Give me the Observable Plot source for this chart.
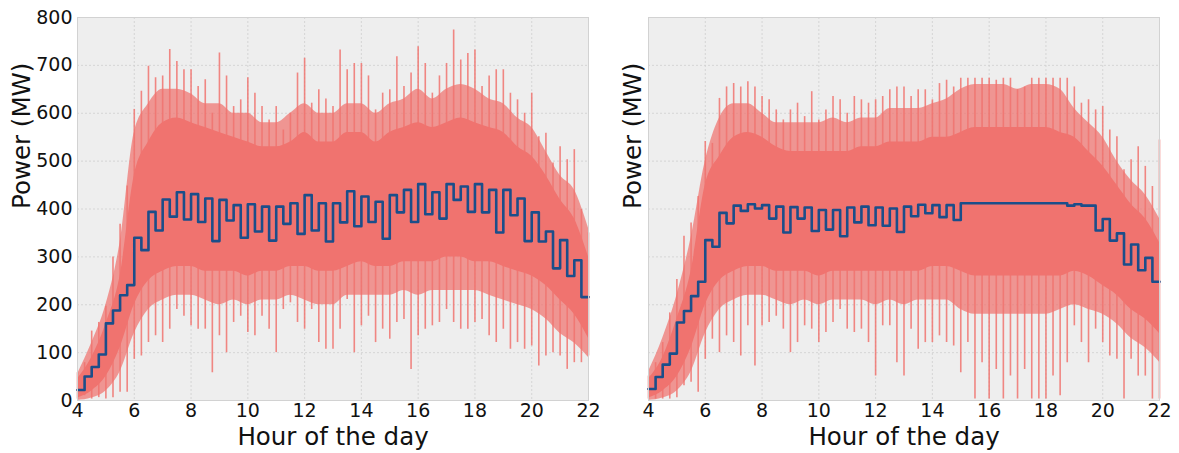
<!DOCTYPE html>
<html>
<head>
<meta charset="utf-8">
<script src="https://cdn.jsdelivr.net/npm/d3@7"></script>
<script src="https://cdn.jsdelivr.net/npm/@observablehq/plot@0.6"></script>
<style>
  html, body { margin: 0; padding: 0; background: #fff; }
  #wrap { display: flex; width: 1179px; height: 453px; }
</style>
</head>
<body>
<div id="wrap"></div>
<script>
// ---- data ----
const xTicks = [4, 6, 8, 10, 12, 14, 16, 18, 20, 22];
const yTicks = [0, 100, 200, 300, 400, 500, 600, 700, 800];
const xLabel = "Hour of the day";
const yLabel = "Power (MW)";

// quarter-hour means (step line), 4:00 .. 21:45
const leftMean = [22,50,70,96, 161,188,220,241, 340,314,394,355, 420,384,435,378,
  431,373,422,333, 419,376,408,340, 410,353,405,334, 405,369,412,348,
  429,355,412,332, 412,372,437,364, 426,373,415,338, 429,393,440,373,
  452,389,435,380, 452,419,447,394, 452,393,440,351, 440,387,422,333,
  393,332,353,276, 335,260,293,216];
const rightMean = [24,49,75,98, 163,187,218,248, 335,321,392,370, 407,396,410,401,
  408,380,405,351, 404,380,403,354, 398,357,398,343, 403,372,405,366,
  403,365,401,352, 405,385,409,391, 408,383,408,377, 412,412,412,412,
  412,412,412,412, 412,412,412,412, 412,412,412,407, 410,407,407,355,
  379,334,349,284, 326,272,298,248];

// quarter-hour spike extremes, 4:00 .. 22:00
const leftHi = [58,79,145,163, 197,300,368,448, 608,646,698,674, 678,733,708,691,
  691,656,670,600, 726,678,614,628, 674,642,614,586, 614,565,600,684,
  715,621,649,630, 614,732,691,704, 704,678,607,642, 649,718,656,684,
  739,704,642,678, 704,774,711,725, 732,656,678,691, 691,642,628,600,
  642,551,558,496, 530,503,524,399, 350];
const leftLo = [3,10,3,6, 3,6,17,17, 86,93,121,135, 121,149,190,176,
  156,149,149,58, 135,100,163,176, 142,135,176,149, 100,190,204,163,
  149,190,121,107, 107,149,211,100, 156,176,121,149, 128,163,169,65,
  135,149,156,163, 190,163,149,149, 163,169,135,121, 149,107,121,107,
  114,72,93,100, 93,65,79,79, 93];
const rightHi = [51,79,121,183, 253,343,371,426, 541,537,631,655, 662,655,666,655,
  635,628,607,586, 607,621,593,645, 586,607,635,628, 600,635,628,621,
  628,635,649,655, 655,635,649,649, 628,662,669,655, 673,673,673,673,
  673,669,673,673, 649,655,673,673, 673,673,673,673, 655,621,628,607,
  614,565,551,482, 503,530,489,447, 544];
const rightLo = [3,3,3,3, 6,31,38,17, 86,128,100,135, 121,93,156,72,
  156,163,176,149, 100,121,156,149, 121,142,163,190, 149,142,149,121,
  51,156,156,79, 51,149,107,121, 121,135,121,114, 58,121,3,79,
  3,65,3,51, 3,65,3,3, 3,51,10,79, 156,121,79,149,
  121,93,86,3, 86,51,51,3, 3];

// half-hour dense core and typical spread, 4:00 .. 22:00
const leftCoreLo = [5,20,50,110,200,250,270,280,280,270,270,270,260,270,270,280,280,270,270,280,290,280,280,290,290,290,300,300,290,290,280,270,260,240,210,180,130];
const leftCoreHi = [45,90,160,260,470,540,580,590,580,570,560,550,540,530,530,540,560,540,540,560,560,540,560,570,580,570,580,590,580,570,560,530,510,470,420,380,300];
const leftMidLo = [0,5,20,60,140,190,210,220,220,210,200,210,200,210,210,220,210,200,200,220,220,220,220,230,220,230,230,230,230,220,210,200,190,170,140,120,90];
const leftMidHi = [55,120,200,330,560,620,650,650,640,620,620,600,600,580,580,600,620,600,600,620,620,600,620,630,650,630,650,660,650,630,620,590,570,520,470,440,360];
const rightCoreLo = [5,20,50,110,200,250,270,280,280,270,270,270,260,270,270,270,270,270,270,270,280,280,270,260,260,260,260,260,260,260,270,260,240,220,190,170,140];
const rightCoreHi = [45,90,170,270,450,510,550,560,550,530,520,520,520,520,520,530,530,540,540,540,550,550,560,570,570,570,570,570,570,560,550,520,490,450,410,380,330];
const rightMidLo = [0,5,20,60,140,190,210,220,220,210,200,210,200,210,210,210,200,210,200,210,210,210,190,180,180,180,180,180,180,190,200,190,180,160,130,110,80];
const rightMidHi = [60,130,220,340,500,590,620,620,600,580,580,580,580,590,580,590,590,610,610,610,620,630,650,660,660,660,650,660,660,650,610,580,550,500,460,430,380];

// ---- build tables ----
const qTimes = d3.range(73).map(i => 4 + i * 0.25);
const hTimes = d3.range(37).map(i => 4 + i * 0.5);

function buildPanel(mean, hi, lo, coreLo, coreHi, midLo, midHi) {
  const step = mean.map((v, i) => ({t: qTimes[i], v}));
  step.push({t: qTimes[72], v: mean[mean.length - 1]});
  const spikes = hi.map((v, i) => ({t: qTimes[i], hi: v, lo: lo[i]}));
  const band = hTimes.map((t, i) => ({t, cLo: coreLo[i], cHi: coreHi[i], mLo: midLo[i], mHi: midHi[i]}));
  return {step, spikes, band};
}

const RED = "#f0736f";
const BLUE = "#1b4e8a";

function makePlot(d, cfg) {
  return Plot.plot({
    width: cfg.width,
    height: 453,
    marginLeft: cfg.marginLeft,
    marginRight: cfg.marginRight,
    marginTop: 17,
    marginBottom: 53,
    x: {domain: [4, 22]},
    y: {domain: [0, 800]},
    style: {fontFamily: "DejaVu Sans", fontSize: "19px", background: "transparent", overflow: "visible"},
    marks: [
      Plot.frame({fill: "#eeeeee", stroke: null}),
      Plot.gridX(xTicks, {stroke: "#cfcfcf", strokeOpacity: 1, strokeDasharray: "2,2", strokeWidth: 0.8}),
      Plot.gridY(yTicks, {stroke: "#cfcfcf", strokeOpacity: 1, strokeDasharray: "2,2", strokeWidth: 0.8}),
      Plot.areaY(d.band, {x: "t", y1: "mLo", y2: "mHi", fill: RED, fillOpacity: 0.72, curve: "monotone-x"}),
      Plot.ruleX(d.spikes, {x: "t", y1: "lo", y2: "hi", stroke: RED, strokeWidth: 1.6, strokeOpacity: 0.85}),
      Plot.areaY(d.band, {x: "t", y1: "cLo", y2: "cHi", fill: RED, fillOpacity: 1, curve: "monotone-x"}),
      Plot.line(d.step, {x: "t", y: "v", curve: "step-after", stroke: BLUE, strokeWidth: 2.6}),
      Plot.frame({stroke: "#d2d2d2", strokeWidth: 1}),
      Plot.axisX(xTicks, {tickSize: 0, tickPadding: 3, label: null, fontSize: 19, fill: "#111"}),
      cfg.yTicks ? Plot.axisY(yTicks, {tickSize: 0, tickPadding: 5, label: null, fontSize: 19, fill: "#111"}) : Plot.axisY({ticks: [], label: null}),
      Plot.text([xLabel], {frameAnchor: "bottom", dy: 44, fontSize: 24.5, fill: "#111"}),
      Plot.text([yLabel], {frameAnchor: "left", dx: cfg.yLabelDx, rotate: -90, fontSize: 24.5, fill: "#111"})
    ]
  });
}

const L = buildPanel(leftMean, leftHi, leftLo, leftCoreLo, leftCoreHi, leftMidLo, leftMidHi);
const R = buildPanel(rightMean, rightHi, rightLo, rightCoreLo, rightCoreHi, rightMidLo, rightMidHi);

const wrap = document.getElementById("wrap");
wrap.appendChild(makePlot(L, {width: 600, marginLeft: 77, marginRight: 12, yTicks: true, yLabelDx: -55}));
wrap.appendChild(makePlot(R, {width: 579, marginLeft: 48, marginRight: 20, yTicks: false, yLabelDx: -15}));
</script>
</body>
</html>
